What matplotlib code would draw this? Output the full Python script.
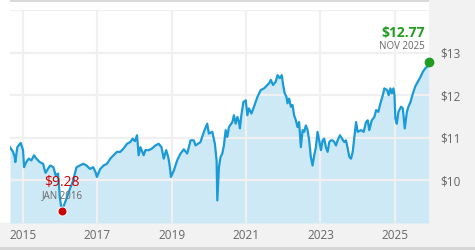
import matplotlib
matplotlib.use('Agg')
import matplotlib.pyplot as plt
import matplotlib.dates as mdates
from matplotlib.patches import Rectangle
import numpy as np
import pandas as pd

plt.rcParams['font.family'] = ['Open Sans', 'DejaVu Sans']

# Price history
dates = [
    '2014-08-29', '2014-09-28', '2014-10-14', '2014-10-20', '2014-11-09', '2014-12-12',
    '2015-01-04', '2015-01-14', '2015-02-05', '2015-03-01', '2015-03-27', '2015-04-22',
    '2015-05-15', '2015-06-17', '2015-07-20', '2015-08-06', '2015-08-13', '2015-09-27',
    '2015-10-29', '2015-11-20', '2015-12-14', '2015-12-31', '2016-01-20', '2016-02-07',
    '2016-03-05', '2016-04-08', '2016-05-10', '2016-06-12', '2016-07-15', '2016-08-17',
    '2016-09-18', '2016-10-22', '2016-11-23', '2016-12-16', '2016-12-29', '2017-01-31',
    '2017-03-05', '2017-04-07', '2017-05-09', '2017-06-11', '2017-07-14', '2017-08-16',
    '2017-09-17', '2017-10-21', '2017-11-22', '2017-12-15', '2018-01-06', '2018-01-27',
    '2018-02-12', '2018-03-01', '2018-04-02', '2018-04-19', '2018-05-22', '2018-06-24',
    '2018-07-26', '2018-08-28', '2018-09-24', '2018-10-16', '2018-11-09', '2018-11-29',
    '2018-12-11', '2018-12-26', '2019-01-23', '2019-02-25', '2019-03-30', '2019-05-01',
    '2019-06-04', '2019-07-06', '2019-08-08', '2019-08-24', '2019-10-12', '2019-11-14',
    '2019-12-17', '2020-01-02', '2020-02-05', '2020-03-01', '2020-03-18', '2020-03-25',
    '2020-04-10', '2020-04-26', '2020-05-13', '2020-05-29', '2020-06-15', '2020-07-01',
    '2020-07-17', '2020-08-20', '2020-09-04', '2020-09-21', '2020-10-08', '2020-10-24',
    '2020-11-02', '2020-11-16', '2020-12-06', '2020-12-29', '2021-01-14', '2021-01-30',
    '2021-02-23', '2021-03-20', '2021-04-23', '2021-05-25', '2021-06-27', '2021-07-13',
    '2021-08-15', '2021-09-01', '2021-09-23', '2021-10-20', '2021-11-06', '2021-11-28',
    '2021-12-18', '2021-12-31', '2022-01-16', '2022-02-02', '2022-02-12', '2022-02-28',
    '2022-03-17', '2022-04-02', '2022-04-18', '2022-05-05', '2022-05-22', '2022-06-06',
    '2022-06-23', '2022-07-10', '2022-07-26', '2022-08-11', '2022-08-28', '2022-09-13',
    '2022-09-29', '2022-10-16', '2022-11-01', '2022-11-18', '2022-12-04', '2022-12-20',
    '2023-01-06', '2023-01-23', '2023-02-07', '2023-02-24', '2023-03-13', '2023-03-29',
    '2023-04-14', '2023-05-01', '2023-05-17', '2023-06-03', '2023-06-19', '2023-07-12',
    '2023-08-01', '2023-08-24', '2023-09-09', '2023-09-26', '2023-10-12', '2023-10-29',
    '2023-11-14', '2023-11-30', '2023-12-17', '2024-01-02', '2024-02-04', '2024-03-01',
    '2024-03-24', '2024-04-10', '2024-04-25', '2024-05-19', '2024-06-14', '2024-07-01',
    '2024-07-23', '2024-08-12', '2024-09-05', '2024-09-20', '2024-10-17', '2024-11-02',
    '2024-11-18', '2024-12-02', '2024-12-18', '2024-12-28', '2025-01-06', '2025-01-20',
    '2025-02-05', '2025-03-03', '2025-03-20', '2025-04-08', '2025-04-29', '2025-05-14',
    '2025-06-03', '2025-06-27', '2025-07-19', '2025-08-15', '2025-09-10', '2025-10-03',
    '2025-10-26', '2025-11-14', '2025-11-28',
]
prices = [
    10.78, 10.67, 10.55, 10.43, 10.78, 10.88,
    10.71, 10.31, 10.43, 10.51, 10.47, 10.59,
    10.51, 10.43, 10.39, 10.23, 10.18, 10.35,
    10.31, 10.12, 10.16, 9.60, 9.28, 9.40,
    9.57, 9.80, 10.00, 10.31, 10.35, 10.39,
    10.35, 10.27, 10.31, 10.19, 10.08, 10.27,
    10.35, 10.39, 10.51, 10.59, 10.67, 10.67,
    10.75, 10.86, 10.90, 10.98, 10.92, 11.06,
    10.59, 10.78, 10.59, 10.71, 10.71, 10.75,
    10.82, 10.86, 10.78, 10.51, 10.71, 10.55,
    10.39, 10.08, 10.23, 10.47, 10.63, 10.73,
    10.63, 10.94, 10.94, 10.82, 10.90, 11.14,
    11.33, 11.10, 11.14, 10.86, 10.47, 9.53,
    10.31, 10.55, 10.63, 10.82, 11.18, 11.02,
    11.25, 11.37, 11.53, 11.33, 11.49, 11.37,
    11.22, 11.53, 11.84, 11.88, 11.53, 11.69,
    11.57, 11.73, 11.96, 12.12, 12.16, 12.20,
    12.28, 12.36, 12.24, 12.32, 12.47, 12.40,
    12.47, 12.24, 12.04, 11.96, 11.81, 11.92,
    11.73, 11.77, 11.53, 11.41, 11.25, 11.37,
    10.78, 11.18, 11.14, 11.29, 11.18, 10.94,
    10.55, 10.35, 10.59, 10.78, 11.14, 10.94,
    10.71, 10.94, 10.98, 10.78, 10.67, 10.90,
    10.94, 10.94, 10.90, 10.82, 10.94, 11.06,
    10.98, 10.90, 10.94, 10.75, 10.55, 10.51,
    10.67, 11.02, 11.37, 11.14, 11.18, 11.14,
    11.37, 11.41, 11.18, 11.41, 11.49, 11.65,
    11.61, 11.81, 12.00, 12.16, 12.12, 12.00,
    12.16, 12.04, 12.16, 12.00, 11.45, 11.33,
    11.61, 11.73, 11.69, 11.22, 11.61, 11.73,
    11.84, 12.04, 12.20, 12.32, 12.43, 12.55,
    12.63, 12.67, 12.77,
]
year_ticks = [2015, 2017, 2019, 2021, 2023, 2025]
price_ticks = [10, 11, 12, 13, 14]

LINE = '#1a9ad6'
FILL = '#cde9f6'
GRID = '#f0f0f0'
BAND = '#f2f2f2'
LABEL = '#666666'
RED = '#cc0000'
GREEN = '#1f9c1f'

x = pd.to_datetime(dates)
y = np.array(prices)

W, H = 475, 250
fig = plt.figure(figsize=(W / 100, H / 100), dpi=100)
fig.patch.set_facecolor('white')

# gray frame pieces around the plot (pixel coords -> figure fraction)
def band(x0, y0, x1, y1, color):
    fig.add_artist(Rectangle((x0 / W, 1 - y1 / H), (x1 - x0) / W, (y1 - y0) / H,
                             transform=fig.transFigure, facecolor=color,
                             edgecolor='none', zorder=0))

band(429, 0, 475, 247, BAND)
band(0, 223, 475, 247, BAND)
band(10, 0, 429, 1.7, '#d9d9d9')
band(0, 247, 475, 250, '#d6d6d6')

ax = fig.add_axes([10 / W, 27 / H, 419 / W, 213 / H])
ax.set_facecolor('white')

ax.fill_between(x, y, 9, color=FILL, linewidth=0, zorder=1)
ax.plot(x, y, color=LINE, linewidth=1.6, zorder=3)

ax.set_ylim(9, 14)
ax.set_xlim(pd.Timestamp('2014-08-29'), pd.Timestamp('2025-12-02'))

ax.set_xticks([pd.Timestamp(f'{yr}-01-01') for yr in year_ticks])
ax.xaxis.set_major_formatter(mdates.DateFormatter('%Y'))
ax.set_yticks(price_ticks)
ax.set_yticklabels([f'${p}' if p < 14 else '' for p in price_ticks])
ax.yaxis.tick_right()
ax.tick_params(axis='both', length=0, labelsize=8.5, labelcolor=LABEL)
ax.tick_params(axis='x', pad=4)
ax.tick_params(axis='y', pad=8)
ax.set_axisbelow(False)
ax.grid(True, color=GRID, linewidth=1.6)
for s in ax.spines.values():
    s.set_visible(False)

# low point
i_lo = int(np.argmin(y))
ax.plot(x[i_lo], y[i_lo], 'o', color=RED, markersize=6.5, markeredgecolor='white',
        markeredgewidth=0.7, zorder=5, clip_on=False)
ax.annotate(f'${y[i_lo]:.2f}', (x[i_lo], y[i_lo]), xytext=(0, 20.7),
            textcoords='offset points', ha='center', va='center',
            fontsize=10, color=RED, zorder=6)
ax.annotate(x[i_lo].strftime('%b %Y').upper(), (x[i_lo], y[i_lo]), xytext=(0, 10.8),
            textcoords='offset points', ha='center', va='center',
            fontsize=7, color=LABEL, zorder=6)

# last point
ax.plot(x[-1], y[-1], 'o', color=GREEN, markersize=6, zorder=5, clip_on=False)
ax.annotate(f'${y[-1]:.2f}', (x[-1], y[-1]), xytext=(-2.9, 21.2),
            textcoords='offset points', ha='right', va='center',
            fontsize=10, fontweight='bold', color=GREEN, zorder=6)
ax.annotate(x[-1].strftime('%b %Y').upper(), (x[-1], y[-1]), xytext=(-2.9, 11.3),
            textcoords='offset points', ha='right', va='center',
            fontsize=7, color=LABEL, zorder=6)

fig.savefig('out.png', dpi=100, facecolor='white')
plt.close(fig)
